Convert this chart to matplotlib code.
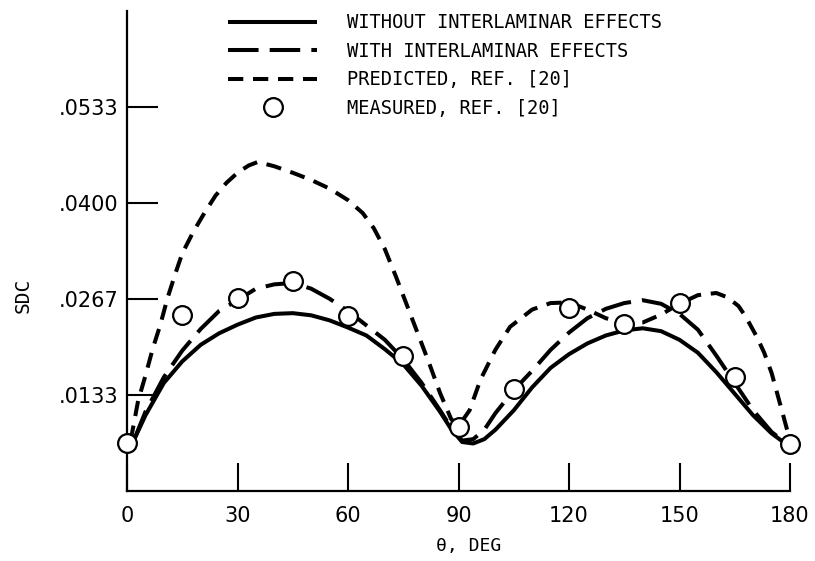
import matplotlib
matplotlib.use("Agg")
import matplotlib.pyplot as plt

# measured points, every 15 deg
theta_meas = [0, 15, 30, 45, 60, 75, 90, 105, 120, 135, 150, 165, 180]
sdc_meas = [0.0067, 0.0244, 0.0268, 0.0292, 0.0243, 0.0188, 0.0089,
            0.0142, 0.0254, 0.0232, 0.0261, 0.0158, 0.0065]

# without interlaminar effects (solid)
theta_wo = [2, 5, 10, 15, 20, 25, 30, 35, 40, 45, 50, 55, 60, 65, 70, 75, 80,
            85, 88, 91, 94, 97, 100, 105, 110, 115, 120, 125, 130, 135, 140,
            145, 150, 155, 160, 165, 170, 175, 179]
sdc_wo = [0.0072, 0.0105, 0.0150, 0.0180, 0.0203, 0.0219, 0.0231, 0.0241,
          0.0246, 0.0247, 0.0244, 0.0237, 0.0227, 0.0216, 0.0197, 0.0176,
          0.0146, 0.0110, 0.0086, 0.0068, 0.0066, 0.0072, 0.0085, 0.0112,
          0.0144, 0.0171, 0.0190, 0.0205, 0.0216, 0.0223, 0.0226, 0.0222,
          0.0210, 0.0192, 0.0165, 0.0135, 0.0105, 0.0080, 0.0065]

# with interlaminar effects (long dash)
theta_w = [2, 5, 10, 15, 20, 25, 30, 35, 40, 45, 50, 55, 60, 65, 70, 75, 80,
           85, 88, 91, 94, 97, 100, 105, 110, 115, 120, 125, 130, 135, 140,
           145, 150, 155, 160, 165, 170, 175, 179]
sdc_w = [0.0072, 0.0110, 0.0158, 0.0195, 0.0225, 0.0250, 0.0265, 0.0281,
         0.0287, 0.0289, 0.0281, 0.0267, 0.0250, 0.0230, 0.0210, 0.0183,
         0.0150, 0.0112, 0.0088, 0.0070, 0.0072, 0.0085, 0.0108, 0.0140,
         0.0167, 0.0196, 0.0220, 0.0240, 0.0253, 0.0261, 0.0265, 0.0260,
         0.0246, 0.0224, 0.0188, 0.0150, 0.0112, 0.0082, 0.0066]

# predicted, ref. [20] (short dash)
theta_pred = [1, 3, 5, 7, 9, 11, 13, 15, 18, 21, 24, 27, 30, 33, 35.5, 40, 45,
              50, 55, 60, 64, 67, 70, 73, 76, 79, 82, 85, 88, 90, 93, 96, 100,
              104, 110, 115, 120, 125, 130, 135, 140, 145, 150, 155, 160, 163,
              166, 168, 171, 173, 175, 178, 180]
sdc_pred = [0.0070, 0.0125, 0.0160, 0.0198, 0.0230, 0.0268, 0.0300, 0.0330,
            0.0360, 0.0386, 0.0410, 0.0428, 0.0442, 0.0452, 0.0457, 0.0451,
            0.0442, 0.0432, 0.0420, 0.0404, 0.0386, 0.0365, 0.0336, 0.0298,
            0.0258, 0.0218, 0.0178, 0.0136, 0.0100, 0.0090, 0.0112, 0.0155,
            0.0196, 0.0228, 0.0252, 0.0261, 0.0262, 0.0252, 0.0240, 0.0233,
            0.0234, 0.0245, 0.0260, 0.0272, 0.0275, 0.0269, 0.0257, 0.0242,
            0.0214, 0.0192, 0.0164, 0.0108, 0.0070]

x_ticks = [0, 30, 60, 90, 120, 150, 180]
y_ticks = [1 / 75, 2 / 75, 3 / 75, 4 / 75]
y_ticklabels = [".0133", ".0267", ".0400", ".0533"]

labels = ["WITHOUT INTERLAMINAR EFFECTS", "WITH INTERLAMINAR EFFECTS",
          "PREDICTED, REF. [20]", "MEASURED, REF. [20]"]

plt.rcParams["lines.scale_dashes"] = False
mono = "DejaVu Sans Mono"

fig = plt.figure(figsize=(8.15, 5.61), dpi=100)
ax = fig.add_axes([127 / 815, 1 - 491 / 561, 663 / 815, 480 / 561])

lw = 2.9
h1, = ax.plot(theta_wo, sdc_wo, color="black", lw=lw, solid_capstyle="butt")
h2, = ax.plot(theta_w, sdc_w, color="black", lw=lw, dashes=(22, 8))
h3, = ax.plot(theta_pred, sdc_pred, color="black", lw=lw, dashes=(11, 7))
h4, = ax.plot(theta_meas, sdc_meas, linestyle="none", marker="o", ms=13.5,
              mfc="white", mec="black", mew=1.6, clip_on=False, zorder=5)

ax.set_xlim(0, 180)
ax.set_ylim(0, 5 / 75)
for s in ["top", "right"]:
    ax.spines[s].set_visible(False)
for s in ["left", "bottom"]:
    ax.spines[s].set_linewidth(1.6)

ax.set_xticks(x_ticks)
ax.set_xticklabels([str(t) for t in x_ticks])
ax.set_yticks(y_ticks)
ax.set_yticklabels(y_ticklabels)
ax.tick_params(axis="x", direction="in", length=20, width=1.5, pad=11,
               labelsize=15)
ax.tick_params(axis="y", direction="in", length=22, width=1.5, pad=6,
               labelsize=15)

fig.text(23 / 815, 1 - 295 / 561, "SDC", rotation=90, family=mono,
         fontsize=14, ha="center", va="center")
fig.text(469 / 815, 1 - 546 / 561, "θ, DEG", family=mono, fontsize=13,
         ha="center", va="center")

ax.legend([h1, h2, h3, h4], labels, loc="upper left",
          bbox_to_anchor=(228 / 815, 1 - 13.5 / 561),
          bbox_transform=fig.transFigure, frameon=False, borderpad=0,
          borderaxespad=0, handlelength=4.75, handletextpad=1.6,
          labelspacing=0.5, numpoints=1, prop={"family": mono, "size": 13.5})

fig.savefig("out.png", dpi=100)
